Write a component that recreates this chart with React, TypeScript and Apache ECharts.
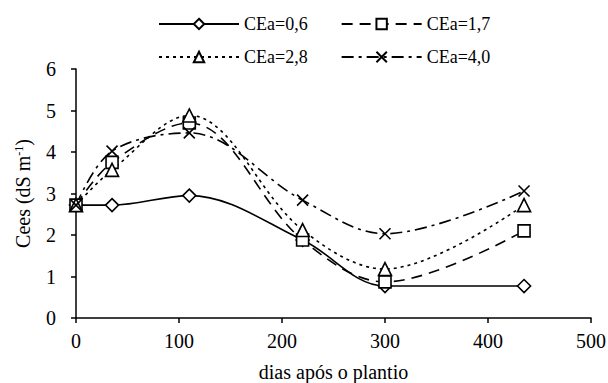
import React, { useEffect, useRef } from "react";
import * as echarts from "echarts";

const days = [0, 35, 110, 220, 300, 435];
const seriesNames = ["CEa=0,6", "CEa=1,7", "CEa=2,8", "CEa=4,0"];
const cea06 = [2.72, 2.72, 2.95, 1.88, 0.77, 0.77];
const cea17 = [2.72, 3.75, 4.7, 1.88, 0.87, 2.1];
const cea28 = [2.72, 3.57, 4.88, 2.12, 1.18, 2.72];
const cea40 = [2.72, 4.02, 4.46, 2.84, 2.03, 3.06];
const yTicks = [0, 1, 2, 3, 4, 5, 6];
const xTicks = [0, 100, 200, 300, 400, 500];

const FONT = "'Liberation Serif', 'Times New Roman', serif";

export default function App() {
  const ref = useRef<HTMLDivElement>(null);
  useEffect(() => {
    if (!ref.current) return;
    const chart = echarts.init(ref.current, undefined, { renderer: "svg" });
    const pair = (vals: number[]) => days.map((d, i) => [d, vals[i]]);
    const mk = (
      name: string,
      vals: number[],
      symbol: string,
      size: number,
      dash: number[] | "solid"
    ) => ({
      name,
      type: "line",
      data: pair(vals),
      smooth: 0.35,
      symbol,
      symbolSize: size,
      showAllSymbol: true,
      lineStyle: { color: "#000", width: 1.6, type: dash },
      itemStyle: { color: "#fff", borderColor: "#000", borderWidth: 1.6 },
      emphasis: { disabled: true },
      z: 2,
    });
    const series = [
      mk(seriesNames[0], cea06, "diamond", 13, "solid"),
      mk(seriesNames[1], cea17, "rect", 12, [11, 7]),
      mk(seriesNames[2], cea28, "triangle", 13, [3, 4]),
      mk(seriesNames[3], cea40, "path://M0,0L10,10M10,0L0,10", 11, [12, 5, 3, 5]),
    ];
    const legendCommon = {
      left: 153,
      itemWidth: 80,
      itemHeight: 13,
      itemGap: 33,
      textStyle: { fontFamily: FONT, fontSize: 18, color: "#000" },
      selectedMode: false,
    };
    chart.setOption({
      animation: false,
      backgroundColor: "#fff",
      textStyle: { fontFamily: FONT },
      legend: [
        { ...legendCommon, top: 10, data: [seriesNames[0], seriesNames[1]] },
        { ...legendCommon, top: 43, data: [seriesNames[2], seriesNames[3]] },
      ],
      grid: { left: 76, right: 17, top: 69, bottom: 65, containLabel: false, outerBoundsMode: "none" },
      xAxis: {
        type: "value",
        min: xTicks[0],
        max: xTicks[xTicks.length - 1],
        interval: 100,
        name: "dias após o plantio",
        nameLocation: "middle",
        nameGap: 44,
        nameTextStyle: { fontFamily: FONT, fontSize: 20, color: "#000" },
        axisLine: { lineStyle: { color: "#000", width: 1.5 } },
        axisTick: { show: true, inside: false, length: 5, lineStyle: { color: "#000", width: 1.5 } },
        axisLabel: { fontFamily: FONT, fontSize: 20, color: "#000", margin: 13 },
        splitLine: { show: false },
      },
      yAxis: {
        type: "value",
        min: yTicks[0],
        max: yTicks[yTicks.length - 1],
        interval: 1,
        name: "{a|Cees (dS m}{s|-1}{a|)}",
        nameLocation: "middle",
        nameGap: 43,
        nameRotate: 90,
        nameTextStyle: {
          rich: {
            a: { fontFamily: FONT, fontSize: 20, color: "#000" },
            s: { fontFamily: FONT, fontSize: 12, color: "#000", verticalAlign: "top", padding: [0, 0, 8, 0] },
          },
        },
        axisLine: { show: true, lineStyle: { color: "#000", width: 1.5 } },
        axisTick: { show: true, inside: false, length: 5, lineStyle: { color: "#000", width: 1.5 } },
        axisLabel: { fontFamily: FONT, fontSize: 20, color: "#000", margin: 20 },
        splitLine: { show: false },
      },
      series,
    });
    return () => chart.dispose();
  }, []);
  return <div ref={ref} style={{ width: 608, height: 383, position: "absolute", left: 0, top: 0 }} />;
}
